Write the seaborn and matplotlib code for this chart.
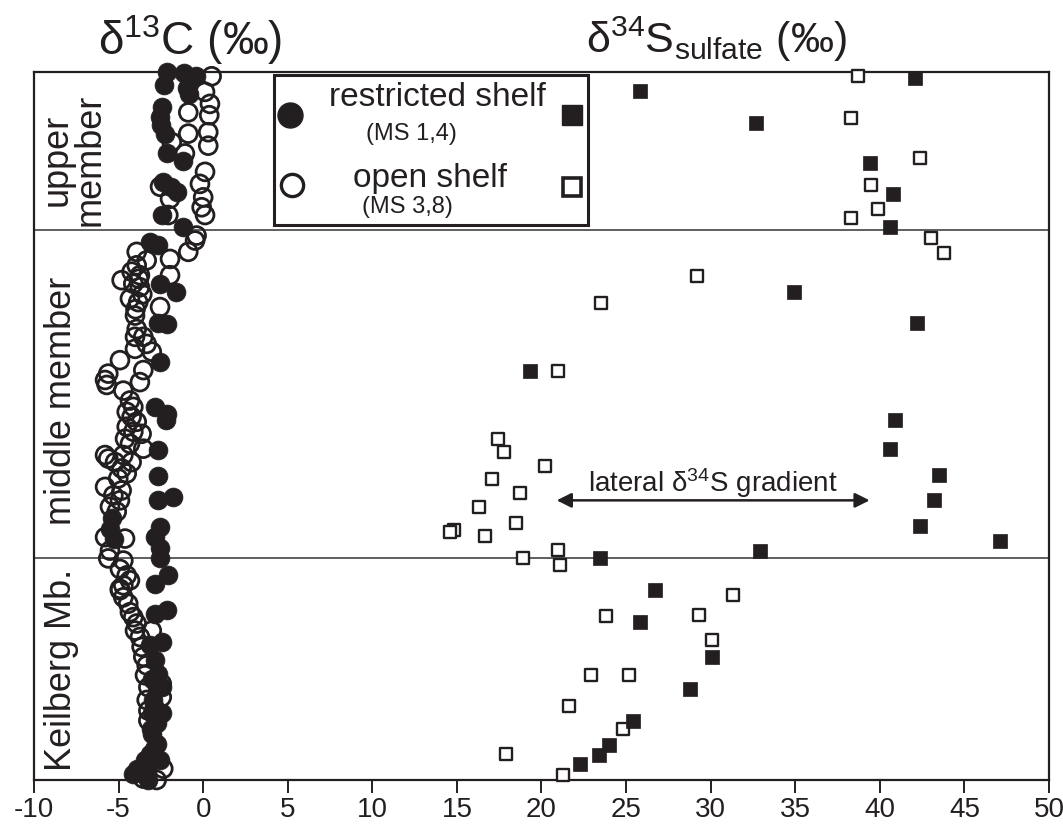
import numpy as np
import pandas as pd
import matplotlib
matplotlib.use("Agg")
import matplotlib.pyplot as plt
import seaborn as sns
from matplotlib.patches import Rectangle

# ---------------- data ----------------
# d13C, restricted shelf (MS 1,4): (value, relative stratigraphic height 0-100)
c13_restricted_x = [-2.12, -1.12, -0.43, -2.32, -0.98, -0.84, -2.45, -2.55, -2.51, -2.26, -2.12, -1.18,
                    -2.36, -1.57, -1.9, -2.45, -1.18,
                    -3.14, -2.65, -2.55, -1.61, -2.65, -2.16, -2.55, -2.85, -2.16, -2.20, -2.65, -2.65,
                    -1.77, -2.65, -2.55, -2.85, -2.55, -5.4, -5.5, -5.3,
                    -2.55, -2.06, -2.85, -2.16, -2.85, -2.45, -3.14, -2.85, -2.65, -2.75, -2.45, -2.95,
                    -3.04, -2.45, -2.75, -3.04, -2.75, -3.14, -3.44, -2.55, -3.93, -4.13, -3.24,
                    -3.0, -2.9, -3.1, -2.9, -3.3]
c13_restricted_h = [100.0, 99.8, 99.5, 98.2, 97.7, 96.9, 95.1, 93.6, 92.5, 91.3, 88.5, 87.5,
                    84.5, 83.1, 83.8, 79.8, 78.1,
                    76.0, 75.5, 70.1, 68.9, 64.5, 64.4, 59.0, 52.7, 51.7, 50.8, 46.6, 43.0,
                    40.0, 39.5, 35.7, 34.3, 32.7, 37.0, 35.5, 34.0,
                    31.3, 28.9, 27.7, 24.0, 23.5, 19.5, 19.0, 16.9, 15.0, 13.1, 13.1, 11.3,
                    9.4, 9.4, 8.0, 6.5, 5.1, 3.7, 2.8, 2.8, 1.6, 0.9, 0.0,
                    14.2, 10.5, 7.2, 4.4, 1.5]

# d13C, open shelf (MS 3,8)
c13_open_x = [0.50, 0.11, 0.40, -0.88, 0.36, 0.30, -0.88, -1.86, 0.30, -1.08, 0.11, -0.19, 0.0, -0.09,
              0.11, -2.55, -1.96, -2.06, -0.39,
              -0.48, -0.88, -1.96, -3.93, -3.34, -3.93, -4.23, -3.74, -1.96, -4.82, -4.13, -3.74,
              -4.33, -3.84, -2.55, -4.03, -3.93, -4.03, -3.54, -3.34, -4.03, -3.04, -4.92, -3.54,
              -5.61, -5.80, -5.70, -3.74, -4.72, -4.33, -4.13, -4.52, -3.8, -3.6, -4.0,
              -4.23, -3.93, -4.52, -4.13, -3.64, -4.62, -4.33, -3.54, -5.80, -5.61, -4.72, -5.21,
              -4.23, -4.82, -4.52, -5.02, -5.80, -4.82, -5.31, -4.92, -5.51, -5.11, -5.80, -4.62,
              -5.51,
              -5.61, -4.72, -4.92, -4.52, -4.33, -4.72, -4.92, -4.92, -4.72, -4.43, -4.33, -4.13,
              -3.93, -4.03, -3.04, -3.74, -3.64, -3.54, -3.34, -3.44, -2.45, -3.24, -3.34, -2.45,
              -3.24, -3.24, -2.36, -3.54, -2.75]
c13_open_h = [99.4, 97.2, 95.5, 94.3, 93.9, 91.5, 91.3, 90.1, 89.6, 88.5, 85.9, 84.2, 82.3, 80.9,
              79.8, 83.8, 82.1, 79.8, 76.9,
              76.2, 74.6, 73.6, 74.6, 73.4, 72.7, 71.8, 71.3, 71.3, 70.6, 70.1, 69.6,
              68.0, 67.5, 66.8, 65.6, 63.7, 62.6, 62.6, 61.6, 60.9, 60.5, 59.3, 57.9,
              57.4, 56.5, 55.8, 56.2, 55.0, 53.6, 52.7, 52.0, 70.8, 68.6, 66.5,
              51.3, 50.6, 49.9, 49.2, 48.9, 48.2, 47.5, 46.8, 45.9, 45.4, 45.9, 44.9,
              44.9, 44.0, 43.3, 42.6, 41.4, 40.9, 40.2, 39.5, 38.6, 37.9, 34.3, 34.1,
              32.4,
              31.3, 31.0, 29.8, 28.9, 28.2, 27.5, 27.0, 26.8, 25.8, 24.9, 23.7, 23.0,
              22.1, 21.1, 21.1, 20.2, 18.8, 17.4, 16.2, 14.8, 13.6, 13.1, 11.3, 11.7,
              9.8, 8.4, 1.6, 0.2, 0.0]

# d34S sulfate, restricted shelf
s34_restricted_x = [42.1, 25.8, 32.7, 39.4, 40.8, 40.6, 34.9, 42.2, 19.3, 40.9, 40.6, 43.5, 43.2,
                    42.35, 47.1, 32.9, 23.45, 26.7, 25.8, 30.1, 28.8, 25.4, 24.0, 23.4, 22.3]
s34_restricted_h = [99.2, 97.3, 92.8, 87.2, 82.8, 78.1, 68.9, 64.5, 57.7, 50.8, 46.8, 43.1, 39.5,
                    35.9, 33.8, 32.4, 31.4, 26.8, 22.3, 17.4, 12.9, 8.3, 5.0, 3.5, 2.2]

# d34S sulfate, open shelf
s34_open_x = [38.7, 38.3, 42.4, 39.5, 39.9, 38.3, 43.0, 43.8, 29.2, 23.5, 21.0, 17.4, 17.8, 20.2,
              17.05, 18.7, 16.3, 18.5, 14.8, 14.6, 16.65, 18.9, 21.0, 21.1, 31.3, 23.8, 29.3,
              30.1, 22.9, 25.2, 21.65, 24.8, 17.9, 21.3]
s34_open_h = [99.4, 93.5, 87.9, 84.1, 80.7, 79.4, 76.6, 74.5, 71.2, 67.4, 57.8, 48.2, 46.3, 44.4,
              42.5, 40.5, 38.6, 36.3, 35.3, 35.0, 34.5, 31.4, 32.5, 30.3, 26.1, 23.1, 23.3,
              19.8, 14.9, 14.9, 10.4, 7.2, 3.7, 0.7]

member_bounds = [77.7, 31.4]
member_labels = ["upper\nmember", "middle member", "Keilberg Mb."]
xticks = list(range(-10, 51, 5))

# ---------------- style ----------------
sns.set_theme(style="white")
plt.rcParams["font.family"] = ["Liberation Sans", "DejaVu Sans"]
plt.rcParams["mathtext.fontset"] = "custom"
plt.rcParams["mathtext.rm"] = "Liberation Sans"
plt.rcParams["mathtext.it"] = "Liberation Sans:italic"
plt.rcParams["mathtext.bf"] = "Liberation Sans:bold"

INK = "#231f20"

fig = plt.figure(figsize=(10.63, 8.26), dpi=100)
ax = fig.add_axes([0.032, 0.0557, 0.9548, 0.8571])

df_co = pd.DataFrame({"x": c13_open_x, "h": c13_open_h})
df_cr = pd.DataFrame({"x": c13_restricted_x, "h": c13_restricted_h})
df_so = pd.DataFrame({"x": s34_open_x, "h": s34_open_h})
df_sr = pd.DataFrame({"x": s34_restricted_x, "h": s34_restricted_h})

sns.scatterplot(data=df_co, x="x", y="h", ax=ax, marker="o", s=165, color="none",
                edgecolor=INK, linewidth=2.0, legend=False, clip_on=False, zorder=3)
sns.scatterplot(data=df_cr, x="x", y="h", ax=ax, marker="o", s=185, color=INK,
                edgecolor=INK, linewidth=0.5, legend=False, clip_on=False, zorder=4)
sns.scatterplot(data=df_so, x="x", y="h", ax=ax, marker="s", s=76, color="white",
                edgecolor=INK, linewidth=1.7, legend=False, clip_on=False, zorder=4)
sns.scatterplot(data=df_sr, x="x", y="h", ax=ax, marker="s", s=95, color=INK,
                edgecolor=INK, linewidth=0.5, legend=False, clip_on=False, zorder=5)

ax.set_xlim(-10, 50)
ax.set_ylim(0, 100)
ax.set_xticks(xticks)
ax.set_xticklabels([str(t) for t in xticks], fontsize=20)
ax.set_yticks([])
ax.set_xlabel("")
ax.set_ylabel("")
ax.tick_params(axis="x", direction="out", length=9, width=1.4, colors=INK, pad=3,
               bottom=True)
for sp in ax.spines.values():
    sp.set_linewidth(1.6)
    sp.set_color(INK)
    sp.set_visible(True)

for b in member_bounds:
    ax.axhline(b, color="#333333", lw=1.1, zorder=1)

# member labels
ax.text(0.039, 0.876, member_labels[0], transform=ax.transAxes, rotation=90,
        ha="center", va="center", fontsize=26, linespacing=0.95, color=INK)
ax.text(0.027, 0.535, member_labels[1], transform=ax.transAxes, rotation=90,
        ha="center", va="center", fontsize=26, color=INK)
ax.text(0.027, 0.155, member_labels[2], transform=ax.transAxes, rotation=90,
        ha="center", va="center", fontsize=26, color=INK)

# column titles
fig.text(0.179, 0.952, "δ$\\mathregular{^{13}}$C (‰)", ha="center", va="center",
         fontsize=33, color=INK)
fig.text(0.674, 0.952, "δ$\\mathregular{^{34}}$S$\\mathregular{_{sulfate}}$ (‰)",
         ha="center", va="center", fontsize=31, color=INK)

# lateral gradient arrow
ax.annotate("", xy=(20.9, 39.5), xytext=(39.4, 39.5),
            arrowprops=dict(arrowstyle="<|-|>", lw=1.8, color=INK,
                            mutation_scale=22, shrinkA=0, shrinkB=0), zorder=6)
ax.text(30.15, 41.9, "lateral δ$\\mathregular{^{34}}$S gradient", ha="center", va="center",
        fontsize=20, color=INK)

# legend box
ax.add_patch(Rectangle((0.236, 0.784), 0.310, 0.212, transform=ax.transAxes,
                       facecolor="white", edgecolor=INK, lw=2.2, zorder=7))
ax.plot([0.252], [0.939], transform=ax.transAxes, marker="o", ms=18, color=INK,
        zorder=8, clip_on=False)
ax.plot([0.254], [0.840], transform=ax.transAxes, marker="o", ms=16, mfc="none",
        mec=INK, mew=2.4, zorder=8, clip_on=False)
ax.plot([0.530], [0.939], transform=ax.transAxes, marker="s", ms=14, color=INK,
        zorder=8, clip_on=False)
ax.plot([0.530], [0.838], transform=ax.transAxes, marker="s", ms=13, mfc="white",
        mec=INK, mew=2.6, zorder=8, clip_on=False)
ax.text(0.397, 0.964, "restricted shelf", transform=ax.transAxes, ha="center",
        va="center", fontsize=24, color=INK, zorder=8)
ax.text(0.372, 0.912, "(MS 1,4)", transform=ax.transAxes, ha="center",
        va="center", fontsize=17, color=INK, zorder=8)
ax.text(0.390, 0.850, "open shelf", transform=ax.transAxes, ha="center",
        va="center", fontsize=24, color=INK, zorder=8)
ax.text(0.368, 0.810, "(MS 3,8)", transform=ax.transAxes, ha="center",
        va="center", fontsize=17, color=INK, zorder=8)

fig.savefig("out.png", dpi=100, facecolor="white")
